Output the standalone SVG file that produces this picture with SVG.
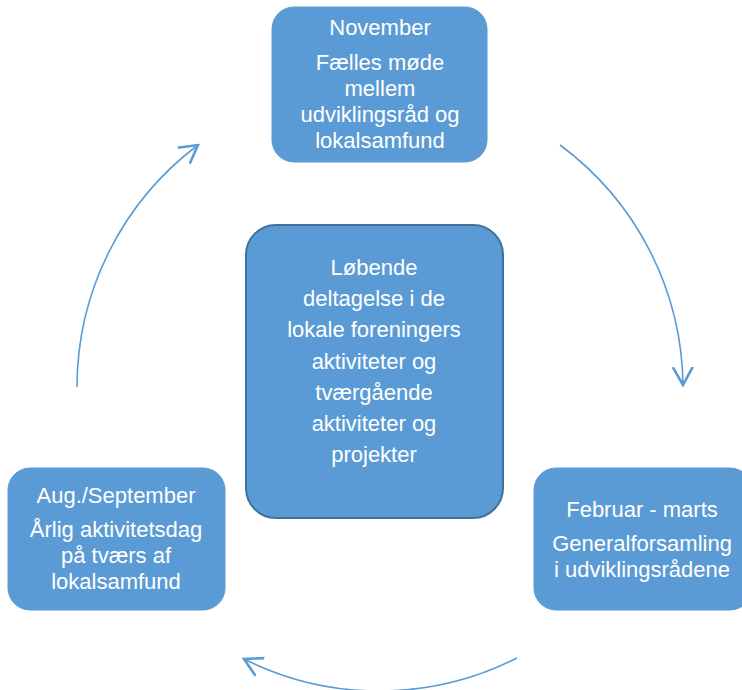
<svg xmlns="http://www.w3.org/2000/svg" width="742" height="690" viewBox="0 0 742 690">
<defs>
<style>
.box{fill:#5B9BD5;stroke:#5B9BD5;stroke-width:1}
.center{fill:#5B9BD5;stroke:#41719C;stroke-width:2}
.t{font-family:"Liberation Sans",Arial,sans-serif;font-size:22px;fill:#ffffff;text-anchor:middle}
.arc{fill:none;stroke:#5B9BD5;stroke-width:1.6}
</style>
<marker id="ah" viewBox="0 0 20 24" refX="18" refY="12" markerWidth="20" markerHeight="24" markerUnits="userSpaceOnUse" orient="auto">
<path d="M0,2 L18,12 L0,22" fill="none" stroke="#5B9BD5" stroke-width="2.6"/>
</marker>
</defs>
<rect width="742" height="690" fill="#ffffff"/>
<g id="connectors">
<path class="arc" d="M560,145 A303,303 0 0 1 683,385" marker-end="url(#ah)"/>
<path class="arc" d="M517,658 A303,303 0 0 1 244,659" marker-end="url(#ah)"/>
<path class="arc" d="M77,387 A303,303 0 0 1 198,145" marker-end="url(#ah)"/>
</g>
<g id="node-november">
<rect class="box" x="272" y="7" width="215" height="155" rx="22"/>
<text class="t" x="380" y="35">November</text>
<text class="t" x="380" y="70">Fælles møde</text>
<text class="t" x="380" y="96">mellem</text>
<text class="t" x="380" y="122">udviklingsråd og</text>
<text class="t" x="380" y="148">lokalsamfund</text>
</g>
<g id="node-center">
<rect class="center" x="246" y="225" width="257" height="293" rx="30"/>
<text class="t" x="374" y="275">Løbende</text>
<text class="t" x="374" y="306">deltagelse i de</text>
<text class="t" x="374" y="337">lokale foreningers</text>
<text class="t" x="374" y="369">aktiviteter og</text>
<text class="t" x="374" y="400">tværgående</text>
<text class="t" x="374" y="431">aktiviteter og</text>
<text class="t" x="374" y="462">projekter</text>
</g>
<g id="node-aug">
<rect class="box" x="8" y="468" width="217" height="142" rx="22"/>
<text class="t" x="116" y="503">Aug./September</text>
<text class="t" x="116" y="537">Årlig aktivitetsdag</text>
<text class="t" x="116" y="563">på tværs af</text>
<text class="t" x="116" y="589">lokalsamfund</text>
</g>
<g id="node-feb">
<rect class="box" x="534" y="468" width="218" height="142" rx="22"/>
<text class="t" x="642" y="517">Februar - marts</text>
<text class="t" x="642" y="551">Generalforsamling</text>
<text class="t" x="642" y="577">i udviklingsrådene</text>
</g>
</svg>
